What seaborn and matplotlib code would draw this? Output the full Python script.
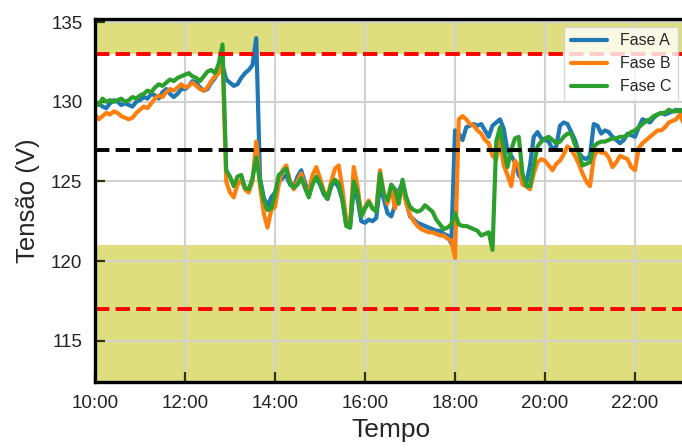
import matplotlib
matplotlib.use("Agg")
from matplotlib import pyplot as plt
import matplotlib.dates as mdates
import pandas as pd
import seaborn as sns

# tensão por fase, uma leitura a cada 5 min, das 10:00 às 23:05
fase_a = [
    129.8, 129.9, 129.7, 129.6, 129.9, 130.1, 130.0, 129.8, 129.9, 129.8, 129.7, 130.0,
    130.1, 130.3, 130.2, 130.5, 130.4, 130.2, 130.6, 130.8, 130.5, 130.3, 130.5, 130.8,
    130.8, 131.0, 131.3, 131.2, 130.9, 130.7, 130.8, 131.2, 131.5, 131.9, 132.3, 131.4,
    131.2, 131.0, 131.1, 131.5, 131.8, 132.0, 132.3, 134.0, 125.2, 124.0, 123.4, 124.0,
    124.3, 125.0, 125.2, 125.4, 124.8, 124.6, 125.3, 125.7, 124.9, 124.3, 124.9, 125.2,
    124.8, 124.2, 123.9, 124.7, 125.0, 124.6, 123.8, 122.3, 122.1, 124.5, 123.9, 122.5,
    122.4, 122.6, 122.5, 122.7, 124.7, 123.9, 123.0, 122.8, 123.5, 124.4, 124.9, 123.8,
    122.8, 122.6, 122.4, 122.3, 122.2, 122.1, 122.0, 121.9, 121.9, 121.7, 121.6, 121.1,
    128.2, 128.0, 127.6, 128.4, 128.5, 128.6, 128.5, 128.6, 128.2, 127.8, 128.5, 128.7,
    128.9, 128.3, 126.9, 126.6, 126.2, 125.4, 125.1, 124.9, 126.0, 127.8, 128.1, 127.7,
    127.6, 127.5, 127.0, 127.2, 128.5, 128.7, 128.6, 128.1, 127.6, 126.8, 126.5, 126.4,
    126.6, 128.6, 128.5, 128.0, 128.2, 128.1, 127.8, 127.6, 127.4, 127.6, 128.0, 127.9,
    127.8, 128.4, 128.9, 128.8, 128.7, 129.0, 129.2, 129.3, 129.2, 129.3, 129.4, 129.5,
    129.4, 129.3,
]
fase_b = [
    129.2, 128.9, 129.1, 129.3, 129.2, 129.4, 129.3, 129.1, 129.0, 128.9, 129.0, 129.3,
    129.5, 129.7, 129.6, 129.9, 130.2, 130.4, 130.3, 130.6, 130.8, 130.7, 130.9, 131.1,
    130.9, 131.0, 131.2, 131.0, 130.8, 130.7, 130.9, 131.3, 131.6, 131.8, 132.8, 125.0,
    124.3, 124.0, 124.8, 125.1, 124.5, 124.3, 125.0, 127.5, 124.7, 123.0, 122.1, 123.2,
    123.4, 124.8, 125.7, 126.0, 125.0, 124.5, 125.0, 125.5, 124.6, 124.3, 125.4, 125.9,
    125.2, 124.4, 124.0, 125.0, 125.8, 126.0, 124.5, 122.6, 122.2, 125.9, 124.7, 122.9,
    123.4, 123.8, 123.3, 123.2, 125.7, 124.3, 123.6, 124.6, 123.3, 124.2, 124.7, 123.6,
    122.9, 122.5, 122.2, 122.0, 121.9, 121.8, 121.8, 121.7, 121.6, 121.6, 121.4, 121.3,
    120.2, 128.9, 129.1, 128.9, 128.6, 128.5, 128.2, 128.0, 127.6, 127.4, 126.6, 126.4,
    127.6, 126.0, 125.4, 124.7, 126.3, 126.0, 124.8, 124.7, 124.5, 125.5, 126.2, 126.4,
    126.3, 126.0, 125.7, 126.1, 126.3, 126.7, 127.2, 127.0, 126.6, 126.1, 125.5, 125.0,
    124.7, 126.5, 127.0, 126.8, 126.8, 126.5, 125.9, 126.2, 126.6, 126.5, 126.4, 125.9,
    125.7, 127.1, 127.4, 127.6, 127.8, 128.0, 128.2, 128.2, 128.4, 128.7, 128.8, 128.9,
    129.2, 128.6,
]
fase_c = [
    130.0, 129.8, 130.2, 130.0, 130.1, 130.0, 130.1, 130.2, 130.0, 130.1, 130.3, 130.2,
    130.4, 130.5, 130.7, 130.6, 130.9, 131.1, 131.0, 131.2, 131.4, 131.3, 131.5, 131.6,
    131.7, 131.8, 131.6, 131.5, 131.3, 131.6, 131.9, 132.0, 131.8, 132.4, 133.6, 125.7,
    125.3, 124.7, 125.3, 125.4, 124.6, 124.5, 125.2, 126.5, 125.0, 123.8, 123.2, 123.3,
    124.2, 125.4, 125.6, 125.8, 124.9, 124.6, 124.8, 125.2, 124.6, 124.0, 124.8, 125.3,
    124.9, 124.3, 123.9, 124.8, 125.1, 124.9, 123.8, 122.2, 122.1, 125.0, 124.3, 122.8,
    123.3, 123.7, 123.3, 123.1, 125.5, 124.2, 123.8, 124.8, 124.5, 123.6, 125.1, 124.0,
    123.4, 123.2, 123.1, 123.2, 123.5, 123.3, 123.1, 122.6, 122.3, 122.0, 122.1, 122.3,
    123.0, 122.3, 122.2, 122.2, 122.1, 122.0, 121.9, 121.6, 121.7, 121.8, 120.7, 127.5,
    128.4, 127.0, 125.9, 127.0, 127.7, 127.8, 125.5, 124.7, 124.7, 126.0, 127.2, 127.5,
    127.7, 127.8, 127.6, 127.4, 127.5, 127.8, 128.0, 128.0, 127.3, 126.8, 126.0, 126.1,
    126.2, 127.2, 127.4, 127.5, 127.5, 127.6, 127.7, 127.7, 127.8, 127.8, 127.9, 128.1,
    128.2, 128.4, 128.6, 128.8, 128.9, 129.1, 129.2, 129.3, 129.3, 129.5, 129.4, 129.4,
    129.5, 129.4,
]
fases = ["Fase A", "Fase B", "Fase C"]

limite_sup = 133
limite_inf = 117
nominal = 127
faixa_sup = 133
faixa_inf = 121

tempo = pd.date_range("2024-01-01 10:00", periods=len(fase_a), freq="5min")
df = pd.DataFrame({"Tempo": tempo, "Fase A": fase_a, "Fase B": fase_b, "Fase C": fase_c})
df = df.melt(id_vars="Tempo", var_name="Fase", value_name="Tensão")

sns.set_style("whitegrid", {"grid.color": ".82", "axes.edgecolor": "black"})
plt.rcParams["font.family"] = ["Liberation Sans", "DejaVu Sans"]

fig = plt.figure(figsize=(6.82, 4.48), dpi=100)
ax = fig.add_axes([95 / 682, 66 / 448, 591 / 682, 363 / 448])

sns.lineplot(data=df, x="Tempo", y="Tensão", hue="Fase", hue_order=fases,
             palette=sns.color_palette()[:3], linewidth=3.0, ax=ax)

ax.axhspan(faixa_sup, 140, color="y", alpha=0.5, lw=0, zorder=0.5)
ax.axhspan(100, faixa_inf, color="y", alpha=0.5, lw=0, zorder=0.5)
ax.axhline(limite_sup, color="red", ls="--", lw=2.8)
ax.axhline(limite_inf, color="red", ls="--", lw=2.8)
ax.axhline(nominal, color="black", ls="--", lw=2.8)

ax.set_ylim(112.4, 135.2)
ax.set_xlim(pd.Timestamp("2024-01-01 10:00"), pd.Timestamp("2024-01-01 23:08"))
ax.xaxis.set_major_locator(mdates.HourLocator(interval=2))
ax.xaxis.set_major_formatter(mdates.DateFormatter("%H:%M"))
ax.set_yticks([115, 120, 125, 130, 135])

ax.grid(True, linewidth=1.5)
for s in ax.spines.values():
    s.set_linewidth(2.4)
    s.set_color("black")
ax.tick_params(direction="in", length=7, width=1.6, color="#333300",
               labelsize=13.5, pad=9, labelcolor="#222222")
ax.tick_params(left=True, bottom=True)

ax.set_xlabel("Tempo", fontsize=19, labelpad=5)
ax.set_ylabel("Tensão (V)", fontsize=18.5, labelpad=8)

ax.legend(loc="upper right", fontsize=11.5, frameon=True, framealpha=0.8,
          edgecolor="0.8", handlelength=2.3, borderaxespad=0.5, fancybox=False)

fig.savefig("out.png", dpi=100)
